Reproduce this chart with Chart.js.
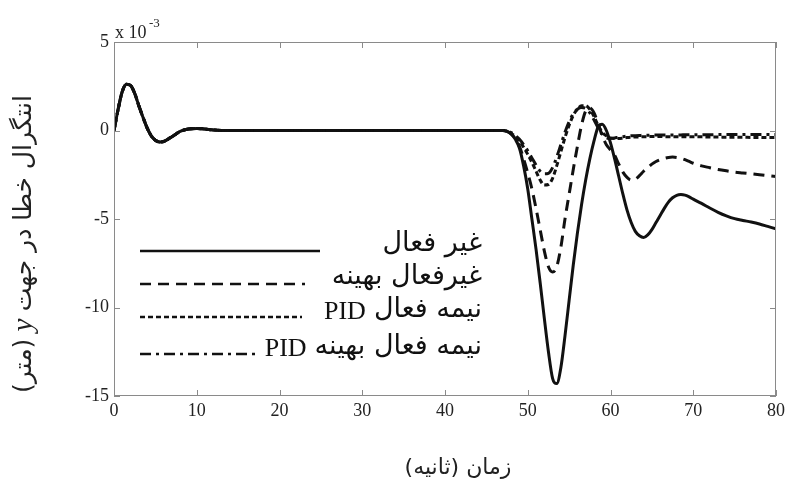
<!DOCTYPE html>
<html>
<head>
<meta charset="utf-8">
<script src="https://cdn.jsdelivr.net/npm/chart.js@4/dist/chart.umd.min.js"></script>
<style>
  html, body { margin: 0; padding: 0; background: #fff; }
  #wrap { width: 789px; height: 482px; }
</style>
</head>
<body>
<div id="wrap"><canvas id="graficoError"></canvas></div>
<script>
// tiempo (s) y error integrado (x 10^-3 m) de cada sistema
const tiempo = [0, 0.5, 1, 1.5, 2, 2.5, 3, 3.5, 4, 4.5, 5, 5.5, 6, 6.5, 7, 7.5, 8, 9, 10, 11, 12, 13,
  20, 30, 40, 46, 47,
  47.5, 48, 48.5, 49, 49.5, 50, 50.5, 51, 51.5, 52, 52.5, 53, 53.5, 54, 54.5, 55, 55.5, 56, 56.5, 57,
  57.5, 58, 58.5, 59, 59.5, 60, 60.5, 61, 61.5, 62, 62.5, 63, 63.5, 64, 64.5, 65, 65.5, 66, 66.5, 67,
  67.5, 68, 68.5, 69, 69.5, 70,
  71, 72, 73, 74, 75, 76, 77, 78, 79, 80];

const pasivo = [0, 1.2, 2.2, 2.62, 2.55, 2.1, 1.4, 0.75, 0.15, -0.3, -0.55, -0.65, -0.62, -0.5, -0.35, -0.2, -0.05, 0.08, 0.12, 0.08, 0.03, 0,
  0, 0, 0, 0, 0,
  -0.05, -0.2, -0.5, -1.0, -2.0, -3.3, -5.0, -6.7, -8.6, -10.6, -12.5, -14.0, -14.3, -13.4, -11.6, -9.6, -7.6, -5.8, -4.2, -2.8,
  -1.6, -0.6, 0.2, 0.35, 0.0, -0.7, -1.6, -2.6, -3.6, -4.5, -5.2, -5.7, -5.95, -6.05, -5.9, -5.6, -5.2, -4.8, -4.4, -4.05,
  -3.8, -3.66, -3.62, -3.65, -3.75, -3.88,
  -4.12, -4.38, -4.62, -4.82, -4.98, -5.08, -5.17, -5.28, -5.42, -5.56];

const pasivoOptimo = [0, 1.2, 2.2, 2.62, 2.55, 2.1, 1.4, 0.75, 0.15, -0.3, -0.55, -0.65, -0.62, -0.5, -0.35, -0.2, -0.05, 0.08, 0.12, 0.08, 0.03, 0,
  0, 0, 0, 0, 0,
  -0.05, -0.2, -0.45, -0.9, -1.6, -2.4, -3.3, -4.4, -5.6, -6.8, -7.7, -8.0, -7.7, -6.6, -5.0, -3.6, -2.2, -0.9, 0.3, 1.1,
  1.28, 1.0, 0.4, -0.3, -0.8, -1.1, -1.4, -1.9, -2.35, -2.65, -2.8, -2.75, -2.55, -2.3, -2.1, -1.9, -1.75, -1.65, -1.57, -1.52,
  -1.5, -1.52, -1.57, -1.65, -1.75, -1.85,
  -2.0, -2.1, -2.2, -2.28, -2.35, -2.4, -2.45, -2.5, -2.55, -2.6];

const semiPID = [0, 1.2, 2.2, 2.62, 2.55, 2.1, 1.4, 0.75, 0.15, -0.3, -0.55, -0.65, -0.62, -0.5, -0.35, -0.2, -0.05, 0.08, 0.12, 0.08, 0.03, 0,
  0, 0, 0, 0, 0,
  -0.05, -0.15, -0.35, -0.6, -0.95, -1.35, -1.8, -2.3, -2.8, -3.08, -3.05, -2.7, -2.0, -1.2, -0.4, 0.3, 0.85, 1.2, 1.4, 1.4,
  1.2, 0.8, 0.3, -0.1, -0.3, -0.42, -0.45, -0.45, -0.43, -0.4, -0.38, -0.37, -0.36, -0.35, -0.35, -0.34, -0.34, -0.34, -0.35, -0.35,
  -0.35, -0.35, -0.35, -0.35, -0.36, -0.36,
  -0.36, -0.37, -0.37, -0.38, -0.38, -0.38, -0.39, -0.39, -0.4, -0.4];

const semiPIDOptimo = [0, 1.2, 2.2, 2.62, 2.55, 2.1, 1.4, 0.75, 0.15, -0.3, -0.55, -0.65, -0.62, -0.5, -0.35, -0.2, -0.05, 0.08, 0.12, 0.08, 0.03, 0,
  0, 0, 0, 0, 0,
  -0.03, -0.12, -0.28, -0.5, -0.8, -1.15, -1.55, -1.95, -2.3, -2.45, -2.42, -2.1, -1.5, -0.8, -0.1, 0.5, 0.95, 1.2, 1.3, 1.25,
  1.0, 0.6, 0.15, -0.2, -0.4, -0.45, -0.42, -0.38, -0.35, -0.32, -0.3, -0.29, -0.28, -0.27, -0.27, -0.26, -0.26, -0.26, -0.25, -0.25,
  -0.25, -0.25, -0.25, -0.24, -0.24, -0.24,
  -0.24, -0.24, -0.23, -0.23, -0.23, -0.23, -0.22, -0.22, -0.22, -0.22];

// nombre en persa y sufijo latino de cada serie
const nombres = ["غیر فعال", "غیرفعال بهینه", "نیمه فعال", "نیمه فعال بهینه"];
const sufijos = ["", "", "PID", "PID"];
const ticksX = [0, 10, 20, 30, 40, 50, 60, 70, 80];
const ticksY = [-15, -10, -5, 0, 5];

const trazos = [[], [11, 7], [5, 3], [11, 5, 3, 5]];
const series = [pasivo, pasivoOptimo, semiPID, semiPIDOptimo];

const serif = "'Liberation Serif', 'Times New Roman', serif";
const persa = "'DejaVu Sans', sans-serif";

// marco, marcas interiores, leyenda y títulos al estilo MATLAB
const decoracion = {
  id: "decoracion",
  afterDraw(chart) {
    const ctx = chart.ctx;
    const a = chart.chartArea;
    const sx = chart.scales.x, sy = chart.scales.y;
    ctx.save();

    // marco
    ctx.strokeStyle = "#8a8a8a";
    ctx.lineWidth = 1;
    ctx.strokeRect(a.left + 0.5, a.top + 0.5, a.right - a.left - 1, a.bottom - a.top - 1);

    // marcas hacia dentro en los cuatro lados
    ctx.beginPath();
    ticksX.forEach((v) => {
      const px = Math.round(sx.getPixelForValue(v)) + 0.5;
      ctx.moveTo(px, a.bottom); ctx.lineTo(px, a.bottom - 6);
      ctx.moveTo(px, a.top); ctx.lineTo(px, a.top + 6);
    });
    ticksY.forEach((v) => {
      const py = Math.round(sy.getPixelForValue(v)) + 0.5;
      ctx.moveTo(a.left, py); ctx.lineTo(a.left + 6, py);
      ctx.moveTo(a.right, py); ctx.lineTo(a.right - 6, py);
    });
    ctx.stroke();

    // factor de escala
    ctx.fillStyle = "#222";
    ctx.textAlign = "left";
    ctx.textBaseline = "alphabetic";
    ctx.font = "18px " + serif;
    ctx.fillText("x 10", a.left + 1, a.top - 4);
    ctx.font = "13px " + serif;
    ctx.fillText("-3", a.left + 35, a.top - 15);

    // leyenda
    const filas = [251, 284, 317, 354];
    const finLinea = [320, 305, 302, 257];
    filas.forEach((y, i) => {
      ctx.beginPath();
      ctx.setLineDash(trazos[i]);
      ctx.strokeStyle = "#111";
      ctx.lineWidth = 2.5;
      ctx.moveTo(140, y);
      ctx.lineTo(finLinea[i], y);
      ctx.stroke();
      ctx.setLineDash([]);
      ctx.direction = "rtl";
      ctx.textAlign = "right";
      ctx.textBaseline = "middle";
      ctx.fillStyle = "#111";
      ctx.font = "27px " + persa;
      ctx.fillText(nombres[i], 482, y - 7);
      if (sufijos[i]) {
        const w = ctx.measureText(nombres[i]).width;
        ctx.direction = "ltr";
        ctx.font = "26px " + serif;
        ctx.fillText(sufijos[i], 482 - w - 8, y - 5);
      }
    });

    // título del eje x
    ctx.direction = "rtl";
    ctx.textAlign = "center";
    ctx.textBaseline = "middle";
    ctx.font = "22px " + persa;
    ctx.fillStyle = "#222";
    ctx.fillText("زمان (ثانیه)", 458, 468);

    // título del eje y, girado
    ctx.translate(24, 244);
    ctx.rotate(-Math.PI / 2);
    const partes = [
      { t: "(متر)", f: "25px " + persa },
      { t: " y ", f: "italic 29px " + serif },
      { t: "انتگرال خطا در جهت", f: "25px " + persa },
    ];
    let total = 0;
    partes.forEach((p) => { ctx.font = p.f; p.w = ctx.measureText(p.t).width; total += p.w; });
    let x = -total / 2;
    ctx.direction = "rtl";
    ctx.textAlign = "left";
    partes.forEach((p) => {
      ctx.font = p.f;
      ctx.fillText(p.t, x, 0);
      x += p.w;
    });
    ctx.restore();
  },
};

new Chart(document.getElementById("graficoError"), {
  type: "line",
  data: {
    labels: tiempo,
    datasets: series.map((s, i) => ({
      label: nombres[i] + (sufijos[i] ? " " + sufijos[i] : ""),
      data: s.map((v, k) => ({ x: tiempo[k], y: v })),
      borderColor: "#111",
      borderWidth: 3,
      borderDash: trazos[i],
      pointRadius: 0,
      fill: false,
      cubicInterpolationMode: "monotone",
    })).reverse(),
  },
  options: {
    responsive: true,
    maintainAspectRatio: false,
    animation: false,
    layout: { padding: { left: 0, top: 42, right: 5, bottom: 0 } },
    plugins: {
      legend: { display: false },
      tooltip: { enabled: false },
    },
    scales: {
      x: {
        type: "linear",
        min: 0,
        max: 80,
        afterFit: (s) => { s.height = 86; },
        afterBuildTicks: (s) => { s.ticks = ticksX.map((v) => ({ value: v })); },
        grid: { display: false, drawTicks: false },
        border: { display: false },
        ticks: { color: "#222", padding: 4, maxRotation: 0, font: { family: serif, size: 18 } },
      },
      y: {
        min: -15,
        max: 5,
        afterFit: (s) => { s.width = 114; },
        afterBuildTicks: (s) => { s.ticks = ticksY.map((v) => ({ value: v })); },
        grid: { display: false, drawTicks: false },
        border: { display: false },
        ticks: { color: "#222", padding: 5, font: { family: serif, size: 18 } },
      },
    },
  },
  plugins: [decoracion],
});
</script>
</body>
</html>
